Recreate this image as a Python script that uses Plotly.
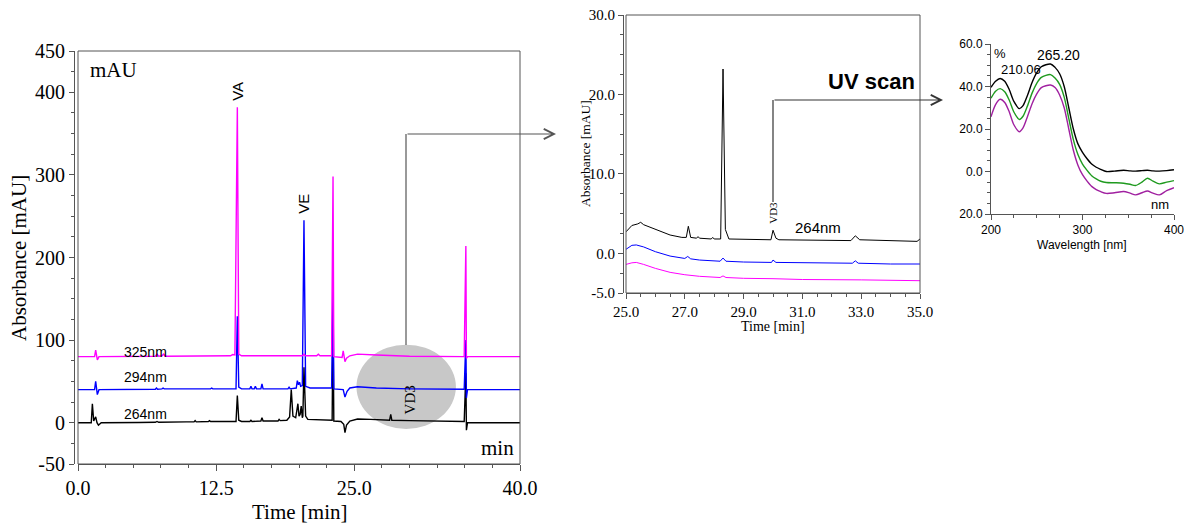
import plotly.graph_objects as go

W, H = 1188, 524

# ---------------- data ----------------
# Main chromatogram: (time [min], absorbance [mAU])
MAIN_264 = [(0, 0), (1.2, 0), (1.3, 23), (1.42, 2), (1.6, 7), (1.72, 0), (1.85, -3), (2.1, 0),
            (5.5, 0.3), (7.0, 0.5), (7.15, 1.5), (7.3, 0.5), (9.8, 1), (10.5, 1), (10.6, 2.5), (10.7, 1),
            (11.8, 1.5), (11.9, 2.5), (12.0, 1.5), (14.3, 1.5), (14.42, 33), (14.55, 3), (14.8, 1.5),
            (15.55, 1.5), (15.65, 3), (15.75, 1.5), (16.55, 2), (16.65, 6), (16.75, 2), (18.1, 2),
            (18.2, 4), (18.3, 2.5), (18.9, 3), (19.05, 5), (19.15, 7), (19.3, 40), (19.45, 8),
            (19.7, 6), (19.9, 23), (20.0, 8), (20.1, 10), (20.2, 20), (20.3, 6), (20.35, 8),
            (20.45, 67), (20.6, 8), (20.8, 4), (22.9, 3), (23.0, 3), (23.08, 130), (23.15, 2),
            (23.8, 1.5), (24.05, -2), (24.16, -12), (24.3, -3), (24.6, 2), (25.3, 4.5), (26.5, 4),
            (28.2, 3), (28.3, 10), (28.4, 3), (30, 2.5), (34.95, 1.5), (35.1, 60), (35.15, -9),
            (35.25, 0), (40, 0)]
MAIN_294 = [(0, 40), (1.5, 40), (1.6, 50), (1.75, 34), (1.9, 40), (7.0, 40.5), (7.1, 42),
            (7.2, 40.5), (7.6, 41), (7.7, 42), (7.8, 41), (12.0, 41), (12.1, 42), (12.2, 41),
            (14.3, 41), (14.42, 129), (14.55, 43), (14.8, 41), (15.55, 41), (15.65, 44), (15.75, 41),
            (15.95, 41), (16.05, 44), (16.15, 41), (16.55, 41), (16.65, 47), (16.75, 41),
            (19.0, 41), (19.1, 43), (19.2, 41), (19.75, 42), (19.85, 51), (19.95, 46), (20.05, 49),
            (20.15, 44), (20.3, 45), (20.45, 245), (20.6, 44), (21.0, 42), (22.95, 42),
            (23.08, 160), (23.15, 41), (24.0, 40), (24.16, 31), (24.35, 38), (24.6, 42),
            (25.3, 43.5), (27.0, 42), (30, 41), (34.95, 40.5), (35.1, 100), (35.15, 30),
            (35.25, 40), (40, 40)]
MAIN_325 = [(0, 80), (1.5, 80), (1.6, 88), (1.75, 76), (1.9, 80), (7.0, 80.5), (7.15, 83),
            (7.3, 80.5), (7.6, 81), (7.75, 83), (7.9, 80.5), (13.8, 81), (14.0, 82.5), (14.2, 82),
            (14.42, 382), (14.55, 83), (14.8, 81), (20.3, 81), (20.45, 83), (20.6, 81), (21.6, 81),
            (21.75, 83), (21.9, 81), (22.95, 81), (23.08, 298), (23.15, 80), (23.9, 79),
            (24.0, 87), (24.16, 74), (24.3, 78), (24.6, 81), (25.3, 83), (27.0, 82), (30, 80.5),
            (34.95, 80), (35.1, 214), (35.15, 78), (35.25, 80), (40, 80)]

# Zoomed chromatogram (25-35 min)
ZOOM_264 = [(25.0, 2.7), (25.2, 3.5), (25.4, 3.7), (25.5, 3.9), (25.6, 3.6), (26.0, 3.0),
            (26.5, 2.3), (26.9, 2.0), (27.05, 2.0), (27.12, 3.4), (27.2, 2.0), (27.4, 1.9),
            (27.45, 2.1), (27.5, 1.9), (27.9, 1.8), (27.95, 2.0), (28.0, 1.8), (28.22, 1.8),
            (28.3, 23.2), (28.38, 3.0), (28.5, 1.8), (29.93, 1.7), (30.0, 2.9), (30.1, 1.9),
            (30.2, 1.7), (32.65, 1.6), (32.8, 2.2), (32.95, 1.7), (34.9, 1.5), (35.0, 1.8)]
ZOOM_294 = [(25.0, 0.5), (25.2, 1.0), (25.35, 1.05), (25.6, 0.8), (26.0, 0.2), (26.5, -0.35),
            (27.0, -0.65), (27.1, -0.4), (27.2, -0.7), (27.5, -0.85), (28.2, -1.0), (28.3, -0.6),
            (28.4, -1.0), (29.0, -1.1), (29.95, -1.15), (30.0, -0.85), (30.1, -1.15), (31.0, -1.2),
            (32.7, -1.25), (32.8, -0.95), (32.9, -1.25), (34.0, -1.35), (35.0, -1.35)]
ZOOM_325 = [(25.0, -1.4), (25.2, -1.2), (25.35, -1.15), (25.6, -1.4), (26.0, -1.9), (26.5, -2.4),
            (27.0, -2.7), (27.5, -2.9), (28.2, -3.05), (28.3, -2.85), (28.4, -3.05), (29.0, -3.15),
            (30.0, -3.2), (31.0, -3.3), (33.0, -3.35), (35.0, -3.45)]

# UV scan spectra
UV_WL = [200, 205, 210, 215, 220, 225, 231, 235, 240, 245, 250, 255, 265, 270, 275, 280, 285,
         290, 295, 300, 305, 310, 315, 320, 326, 335, 345, 352, 358, 365, 371, 377, 384, 392, 400]
UV_BLACK = [39.6, 42.5, 43.8, 42.5, 38.5, 33, 29.6, 31, 36, 42, 46.5, 49.3, 50.6, 49, 46, 40, 30,
            20, 13, 9, 6, 3.5, 2, 1, 0, 0.2, 0.6, 0.3, 0.2, 0.4, 0.6, 0.3, 0.2, 0.4, 0.8]
UV_GREEN = [34.5, 37.8, 39, 37.5, 33.5, 28, 24.5, 26, 31, 37, 41.5, 44.3, 45.6, 44, 41, 35, 25,
            15, 8, 3.5, 0.5, -2, -3.5, -4.6, -5.2, -5.3, -5.5, -6, -6.6, -5, -3.2, -4.5, -5.8,
            -5, -4.3]
UV_PURPLE = [25.8, 31.5, 34, 32.5, 28, 22, 18.7, 20.5, 26, 32, 36.5, 39.5, 40.7, 39.5, 36, 30,
             20, 10, 3, -1.5, -4.5, -7, -8.5, -9.5, -10.3, -10, -9.4, -10.2, -11, -10, -9.2,
             -10.2, -11, -9, -7.6]

# tick labels
MAIN_XTICKS = [0, 12.5, 25, 40]
MAIN_XTEXT = ['0.0', '12.5', '25.0', '40.0']
MAIN_YTICKS = [-50, 0, 100, 200, 300, 400, 450]
MAIN_YTEXT = ['-50', '0', '100', '200', '300', '400', '450']
ZOOM_XTICKS = [25, 27, 29, 31, 33, 35]
ZOOM_XTEXT = ['25.0', '27.0', '29.0', '31.0', '33.0', '35.0']
ZOOM_YTICKS = [-5, 0, 10, 20, 30]
ZOOM_YTEXT = ['-5.0', '0.0', '10.0', '20.0', '30.0']
UV_XTICKS = [200, 300, 400]
UV_XTEXT = ['200', '300', '400']
UV_YTICKS = [-20, 0, 20, 40, 60]
UV_YTEXT = ['20.0', '0.0', '20.0', '40.0', '60.0']

# ---------------- figure ----------------
SERIF = 'Liberation Serif'
SANS = 'Liberation Sans'
AX = '#555555'


def px(x):
    return x / W


def py(y):
    return 1 - y / H


def xy(pairs):
    return [p[0] for p in pairs], [p[1] for p in pairs]


fig = go.Figure()
for data, col in ((MAIN_264, 'black'), (MAIN_294, '#0000ff'), (MAIN_325, '#ff00ff')):
    x, y = xy(data)
    fig.add_trace(go.Scatter(x=x, y=y, mode='lines', line=dict(color=col, width=1.4),
                             xaxis='x', yaxis='y', hoverinfo='skip'))
for data, col in ((ZOOM_264, 'black'), (ZOOM_294, '#0000ff'), (ZOOM_325, '#ff00ff')):
    x, y = xy(data)
    fig.add_trace(go.Scatter(x=x, y=y, mode='lines', line=dict(color=col, width=1),
                             xaxis='x2', yaxis='y2', hoverinfo='skip'))
for vals, col in ((UV_BLACK, 'black'), (UV_GREEN, '#1f9a1f'), (UV_PURPLE, '#a020a0')):
    fig.add_trace(go.Scatter(x=UV_WL, y=vals, mode='lines',
                             line=dict(color=col, width=1.4, shape='spline', smoothing=0.8),
                             xaxis='x3', yaxis='y3', hoverinfo='skip'))


def axis(**kw):
    base = dict(showgrid=False, zeroline=False, showline=True, linecolor=AX, linewidth=1,
                ticks='outside', tickcolor=AX, tickwidth=1, tickmode='array', automargin=False)
    base.update(kw)
    return base


fig.update_layout(
    width=W, height=H, margin=dict(l=0, r=0, t=0, b=0, pad=0, autoexpand=False),
    paper_bgcolor='white', plot_bgcolor='white', showlegend=False,
    xaxis=axis(domain=[px(78), px(520)], range=[0, 40], anchor='y',
               tickvals=MAIN_XTICKS, ticktext=MAIN_XTEXT, ticklen=6,
               tickfont=dict(family=SERIF, size=20, color='black'),
               minor=dict(dtick=2.5, tick0=0, ticklen=3, ticks='outside', tickcolor=AX)),
    yaxis=axis(domain=[py(464), py(51)], range=[-50, 450], anchor='free', position=px(74),
               tickvals=MAIN_YTICKS, ticktext=MAIN_YTEXT, ticklen=5,
               tickfont=dict(family=SERIF, size=20, color='black'),
               minor=dict(dtick=25, tick0=-50, ticklen=3, ticks='outside', tickcolor=AX)),
    xaxis2=axis(domain=[px(626), px(920)], range=[25, 35], anchor='y2',
                tickvals=ZOOM_XTICKS, ticktext=ZOOM_XTEXT, ticklen=5,
                tickfont=dict(family=SERIF, size=15, color='black'),
                minor=dict(dtick=0.5, tick0=25, ticklen=3, ticks='outside', tickcolor=AX)),
    yaxis2=axis(domain=[py(293), py(15)], range=[-5, 30], anchor='free', position=px(623),
                tickvals=ZOOM_YTICKS, ticktext=ZOOM_YTEXT, ticklen=5,
                tickfont=dict(family=SERIF, size=15, color='black'),
                minor=dict(dtick=2.5, tick0=-5, ticklen=3, ticks='outside', tickcolor=AX)),
    xaxis3=axis(domain=[px(991), px(1174)], range=[200, 400], anchor='y3',
                tickvals=UV_XTICKS, ticktext=UV_XTEXT, ticklen=5,
                tickfont=dict(family=SANS, size=12, color='black'),
                minor=dict(dtick=25, tick0=200, ticklen=3, ticks='outside', tickcolor=AX)),
    yaxis3=axis(domain=[py(214), py(44)], range=[-20, 60], anchor='x3',
                tickvals=UV_YTICKS, ticktext=UV_YTEXT, ticklen=5,
                tickfont=dict(family=SANS, size=12, color='black'),
                minor=dict(dtick=5, tick0=-20, ticklen=3, ticks='outside', tickcolor=AX)),
)

shapes = [
    # grey ellipse highlighting VD3 region (data coords of main panel)
    dict(type='circle', xref='x', yref='y', x0=25.2, x1=34.2, y0=-7.5, y1=94.5,
         fillcolor='#c8c8c8', line=dict(width=0), layer='below'),
    # frames
    dict(type='rect', xref='x domain', yref='y domain', x0=0, x1=1, y0=0, y1=1,
         line=dict(color=AX, width=1)),
    dict(type='rect', xref='x2 domain', yref='y2 domain', x0=0, x1=1, y0=0, y1=1,
         line=dict(color=AX, width=1)),
    # connector lines
    dict(type='line', xref='paper', yref='paper', x0=px(406), x1=px(406), y0=py(345), y1=py(134),
         line=dict(color=AX, width=1.2)),
    dict(type='line', xref='paper', yref='paper', x0=px(773), x1=px(773), y0=py(202), y1=py(100),
         line=dict(color='#333333', width=1.2)),
]
fig.update_layout(shapes=shapes)

ann = []


def text(t, x, y, size, family=SANS, xref='paper', yref='paper', angle=0, xa='center', ya='middle',
         bold=False):
    ann.append(dict(text=f'<b>{t}</b>' if bold else t, x=x, y=y, xref=xref, yref=yref,
                    showarrow=False, textangle=angle, xanchor=xa, yanchor=ya,
                    font=dict(family=family, size=size, color='black')))


# axis titles
text('Absorbance [mAU]', px(19), py(258), 21, SERIF, angle=-90)
text('Time [min]', px(299), py(512), 21, SERIF)
text('Absorbance [mAU]', px(585), py(154), 13.5, SERIF, angle=-90)
text('Time [min]', px(773), py(326), 14, SERIF)
text('Wavelength [nm]', px(1082), py(245), 12, SANS)

# main panel labels
text('mAU', px(88), py(70), 21, SERIF, xa='left')
text('min', px(516), py(448), 21, SERIF, xa='right')
text('VA', 14.42, 401, 15, SANS, 'x', 'y', angle=-90)
text('VE', 20.45, 265, 15, SANS, 'x', 'y', angle=-90)
text('VD3', 30.05, 27, 15, SERIF, 'x', 'y', angle=-90)
text('325nm', 6.1, 86, 14, SANS, 'x', 'y')
text('294nm', 6.1, 55.5, 14, SANS, 'x', 'y')
text('264nm', 6.1, 11, 14, SANS, 'x', 'y')

# zoom panel labels
text('VD3', 30.0, 5.1, 11, SERIF, 'x2', 'y2', angle=-90)
text('264nm', 31.53, 3.2, 15, SANS, 'x2', 'y2')
text('UV scan', px(871), py(82), 22, SANS, bold=True)

# UV panel labels
text('%', 209.8, 55.3, 13, SANS, 'x3', 'y3')
text('210.06', 232.5, 47.8, 13, SANS, 'x3', 'y3')
text('265.20', 274, 54.8, 14, SANS, 'x3', 'y3')
text('nm', 384.7, -15.3, 13, SANS, 'x3', 'y3')

# arrows
for xh, yh, dx, col in ((556, 134, -150, AX), (943, 100, -170, '#333333')):
    ann.append(dict(x=px(xh), y=py(yh), xref='paper', yref='paper', ax=dx, ay=0,
                    showarrow=True, arrowhead=5, arrowsize=1.8, arrowwidth=1.1,
                    arrowcolor=col, text='', standoff=0))

fig.update_layout(annotations=ann)
fig.write_html('out.html', config={'displayModeBar': False},
               post_script="document.body.style.margin='0';document.body.style.padding='0';"
                           "document.body.style.overflow='hidden';")
